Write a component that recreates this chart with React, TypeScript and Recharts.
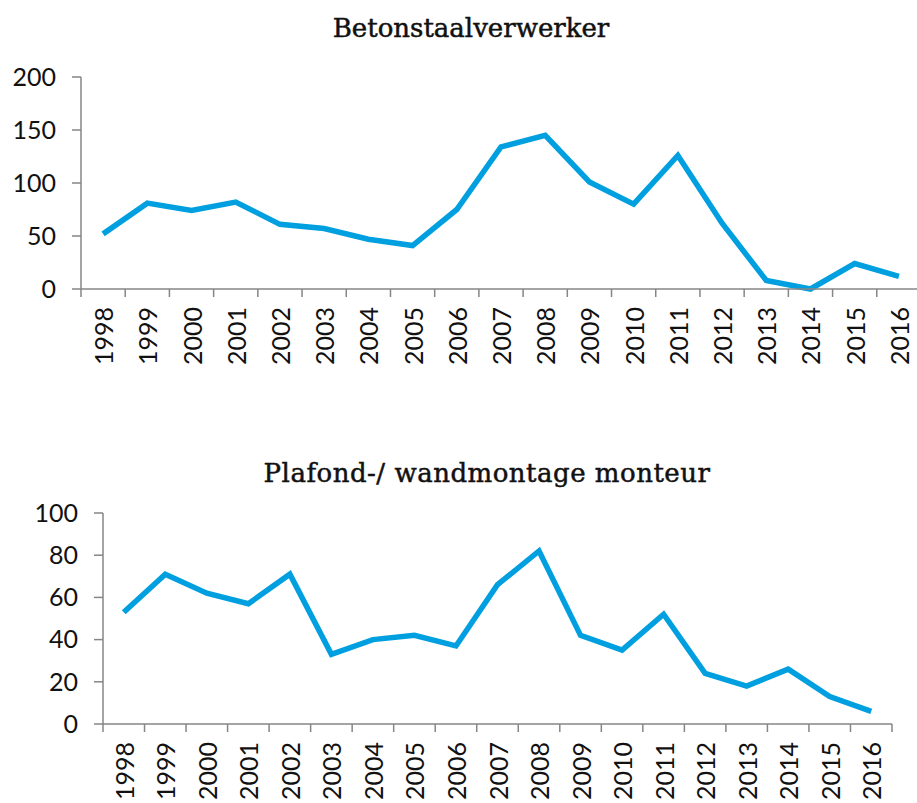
import React from "react";
import { LineChart, Line, XAxis, YAxis } from "recharts";

const years = [
  "1998", "1999", "2000", "2001", "2002", "2003", "2004", "2005", "2006", "2007",
  "2008", "2009", "2010", "2011", "2012", "2013", "2014", "2015", "2016",
];
const betonstaal = [52, 81, 74, 82, 61, 57, 47, 41, 75, 134, 145, 101, 80, 126, 62, 8, 0, 24, 12];
const plafond = [53, 71, 62, 57, 71, 33, 40, 42, 37, 66, 82, 42, 35, 52, 24, 18, 26, 13, 6];
const ticksTop = [0, 50, 100, 150, 200];
const ticksBottom = [0, 20, 40, 60, 80, 100];

const BLUE = "#009fdf";
const AXIS = "#868686";
const TICK_FONT = "Lato, 'Open Sans', sans-serif";

// category ticks: integers carry the year label, halves are the boundary tick marks
const xTicks: number[] = [];
for (let i = 0; i <= years.length; i++) {
  xTicks.push(i - 0.5);
  if (i < years.length) xTicks.push(i);
}

const YearTick = (props: any) => {
  const { x, y, payload } = props;
  const v = payload.value;
  if (!Number.isInteger(v)) {
    return <line x1={x} x2={x} y1={y} y2={y + 8} stroke={AXIS} strokeWidth={1.5} />;
  }
  return (
    <text
      x={x}
      y={y + 18}
      transform={`rotate(-90, ${x}, ${y + 18})`}
      textAnchor="end"
      dominantBaseline="central"
      fontFamily={TICK_FONT}
      fontSize={25}
      fill="#111"
    >
      {years[v]}
    </text>
  );
};

function Panel({ values, ticks, max, width, height, margin, yWidth, xHeight }: any) {
  const data = values.map((v: number, i: number) => ({ i, v }));
  return (
    <LineChart width={width} height={height} data={data} margin={margin}>
      <XAxis
        dataKey="i"
        type="number"
        domain={[-0.5, years.length - 0.5]}
        ticks={xTicks}
        interval={0}
        tickLine={false}
        tickSize={0}
        tickMargin={0}
        height={xHeight}
        axisLine={{ stroke: AXIS, strokeWidth: 1.5 }}
        tick={<YearTick />}
      />
      <YAxis
        domain={[0, max]}
        ticks={ticks}
        interval={0}
        width={yWidth}
        tickSize={9}
        tickMargin={16}
        axisLine={{ stroke: AXIS, strokeWidth: 1.5 }}
        tickLine={{ stroke: AXIS, strokeWidth: 1.5 }}
        tick={{ fill: "#111", fontSize: 25, fontFamily: TICK_FONT }}
      />
      <Line
        dataKey="v"
        stroke={BLUE}
        strokeWidth={5.5}
        dot={false}
        isAnimationActive={false}
      />
    </LineChart>
  );
}

const titleStyle: React.CSSProperties = {
  position: "absolute",
  transform: "translateX(-50%)",
  whiteSpace: "nowrap",
  fontFamily: "'DejaVu Serif', serif",
  fontSize: 26,
  color: "#111",
  lineHeight: "30px",
  WebkitTextStroke: "0.5px #111",
};

export default function App() {
  return (
    <div style={{ position: "absolute", left: 0, top: 0, width: 917, height: 803, overflow: "hidden", background: "#fff" }}>
      <div style={{ ...titleStyle, left: 471, top: 13 }}>Betonstaalverwerker</div>
      <div style={{ position: "absolute", left: 0, top: 0 }}>
        <Panel
          values={betonstaal}
          ticks={ticksTop}
          max={200}
          width={930}
          height={400}
          margin={{ top: 77, right: 9, left: 0, bottom: 0 }}
          yWidth={81}
          xHeight={111}
        />
      </div>
      <div style={{ ...titleStyle, left: 487, top: 458, letterSpacing: 0.5 }}>Plafond-/ wandmontage monteur</div>
      <div style={{ position: "absolute", left: 0, top: 440 }}>
        <Panel
          values={plafond}
          ticks={ticksBottom}
          max={100}
          width={917}
          height={363}
          margin={{ top: 73, right: 25, left: 0, bottom: 0 }}
          yWidth={103}
          xHeight={79}
        />
      </div>
    </div>
  );
}
